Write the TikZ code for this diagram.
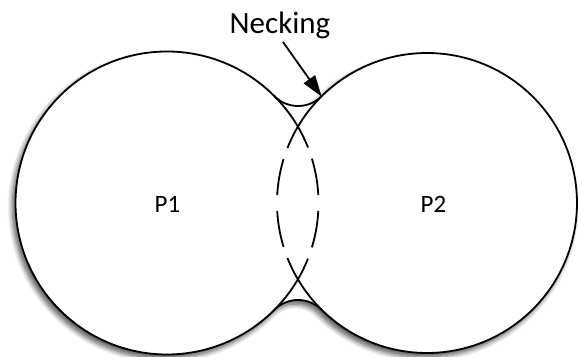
\documentclass[tikz,border=0pt]{standalone}
\usepackage{fontspec}
\setmainfont{Carlito}
\usetikzlibrary{arrows.meta,calc,shadows.blur}
\begin{document}
\begin{tikzpicture}[x=1pt,y=1pt,
  outline/.style={line width=1.8pt, draw=black},
  necklbl/.style={font=\fontsize{31}{36}\selectfont, anchor=base, inner sep=0pt},
  plbl/.style={font=\fontsize{25}{30}\selectfont, anchor=base, inner sep=0pt},
  shadowed/.style={fill=white, blur shadow={shadow xshift=-3pt, shadow yshift=-4pt, shadow blur radius=5pt, shadow opacity=70, shadow blur steps=8}},
  lenspatL/.style={dash pattern=on 61.7pt off 11.9pt on 37pt off 15.9pt on 37pt off 11.9pt on 70pt off 100pt},
  lenspatR/.style={dash pattern=on 62.3pt off 11.8pt on 36.7pt off 15.7pt on 36.7pt off 11.8pt on 70pt off 100pt},
  arrowline/.style={line width=1.8pt, draw=black, -{Triangle[length=21pt,width=14pt,fill=black,line width=0.5pt]}}]
\useasboundingbox (0,0) rectangle (578,356);
\coordinate (c1) at (167,153);
\coordinate (c2) at (427,153);
\coordinate (T1) at ($(c1)+(44.83:151.5pt)$);
\coordinate (T2) at ($(c2)+(134.7:150pt)$);
% outline of the sintered pair with necks
\path[outline, shadowed] (T1)
  arc[start angle=44.83, end angle=315.17, radius=151.5pt]
  arc[start angle=135.17, end angle=45.3, radius=33.3pt]
  arc[start angle=225.3, end angle=494.7, radius=150pt]
  arc[start angle=314.7, end angle=224.83, radius=33.3pt] -- cycle;
% inner parts of the circles
\draw[outline, lenspatL] (T1) arc[start angle=44.83, end angle=-44.83, radius=151.5pt];
\draw[outline, lenspatR] (T2) arc[start angle=134.7, end angle=225.3, radius=150pt];
% labels
\node[plbl] (p1) at (167.5,143.3) {P1};
\node[plbl] (p2) at (433.5,143.3) {P2};
\node[necklbl] (neck) at (280,322.7) {Necking};
\coordinate (as) at (283,314);
\draw[arrowline] (as) -- (T2);
\end{tikzpicture}
\end{document}
